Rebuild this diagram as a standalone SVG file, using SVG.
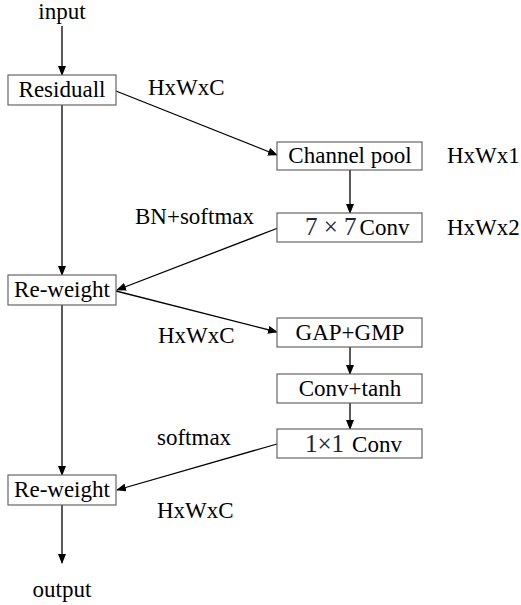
<svg xmlns="http://www.w3.org/2000/svg" width="521" height="605" viewBox="0 0 521 605">
<style>
.box{fill:#fff;stroke:#666;stroke-width:1.2}
.t{font-family:"Liberation Serif","Times New Roman",serif;font-size:23px;fill:#000}
.c{text-anchor:middle}
.m{fill:#1a2440}
.ln{stroke:#000;stroke-width:1.3;fill:none;marker-end:url(#ah)}
</style>
<defs>
<marker id="ah" markerWidth="10" markerHeight="8" refX="9" refY="4" orient="auto" markerUnits="userSpaceOnUse">
<path d="M0,0 L10,4 L0,8 Z" fill="#000"/>
</marker>
</defs>
<rect width="521" height="605" fill="#fff"/>
<g id="connectors">
<line class="ln" x1="62" y1="26" x2="62" y2="75"/>
<line class="ln" x1="62" y1="105" x2="62" y2="275"/>
<line class="ln" x1="116" y1="91" x2="277" y2="155"/>
<line class="ln" x1="350" y1="170" x2="350" y2="213"/>
<line class="ln" x1="278" y1="228" x2="117" y2="290"/>
<line class="ln" x1="116" y1="291" x2="277" y2="332"/>
<line class="ln" x1="62" y1="305" x2="62" y2="475"/>
<line class="ln" x1="350" y1="347" x2="350" y2="374"/>
<line class="ln" x1="350" y1="403" x2="350" y2="429"/>
<line class="ln" x1="277" y1="444" x2="117" y2="490"/>
<line class="ln" x1="62" y1="505" x2="62" y2="563"/>
</g>
<g id="input"><text class="t c" x="62" y="19">input</text></g>
<g id="residual"><rect class="box" x="8" y="75" width="108" height="30"/><text class="t c" x="62" y="97">Residuall</text></g>
<g id="channelpool"><rect class="box" x="277" y="142" width="145" height="28"/><text class="t c" x="350" y="163">Channel pool</text></g>
<g id="conv7"><rect class="box" x="277" y="213" width="145" height="29"/><text class="t" x="305" y="235"><tspan class="m" font-size="25">7 × 7</tspan><tspan dx="3">Conv</tspan></text></g>
<g id="reweight1"><rect class="box" x="8" y="275" width="108" height="30"/><text class="t c" x="62" y="297">Re-weight</text></g>
<g id="gap"><rect class="box" x="277" y="318" width="145" height="29"/><text class="t c" x="350" y="340">GAP+GMP</text></g>
<g id="convtanh"><rect class="box" x="277" y="374" width="145" height="29"/><text class="t c" x="350" y="396">Conv+tanh</text></g>
<g id="conv1"><rect class="box" x="277" y="429" width="145" height="29"/><text class="t" x="305" y="452"><tspan class="m" font-size="25">1×1</tspan><tspan dx="8">Conv</tspan></text></g>
<g id="reweight2"><rect class="box" x="8" y="475" width="108" height="30"/><text class="t c" x="62" y="497">Re-weight</text></g>
<g id="output"><text class="t c" x="62" y="597">output</text></g>
<g id="labels">
<text class="t" x="148" y="95">HxWxC</text>
<text class="t" x="447" y="163">HxWx1</text>
<text class="t" x="447" y="235">HxWx2</text>
<text class="t" x="135" y="224">BN+softmax</text>
<text class="t" x="158" y="343">HxWxC</text>
<text class="t" x="157" y="445">softmax</text>
<text class="t" x="157" y="518">HxWxC</text>
</g>
</svg>
